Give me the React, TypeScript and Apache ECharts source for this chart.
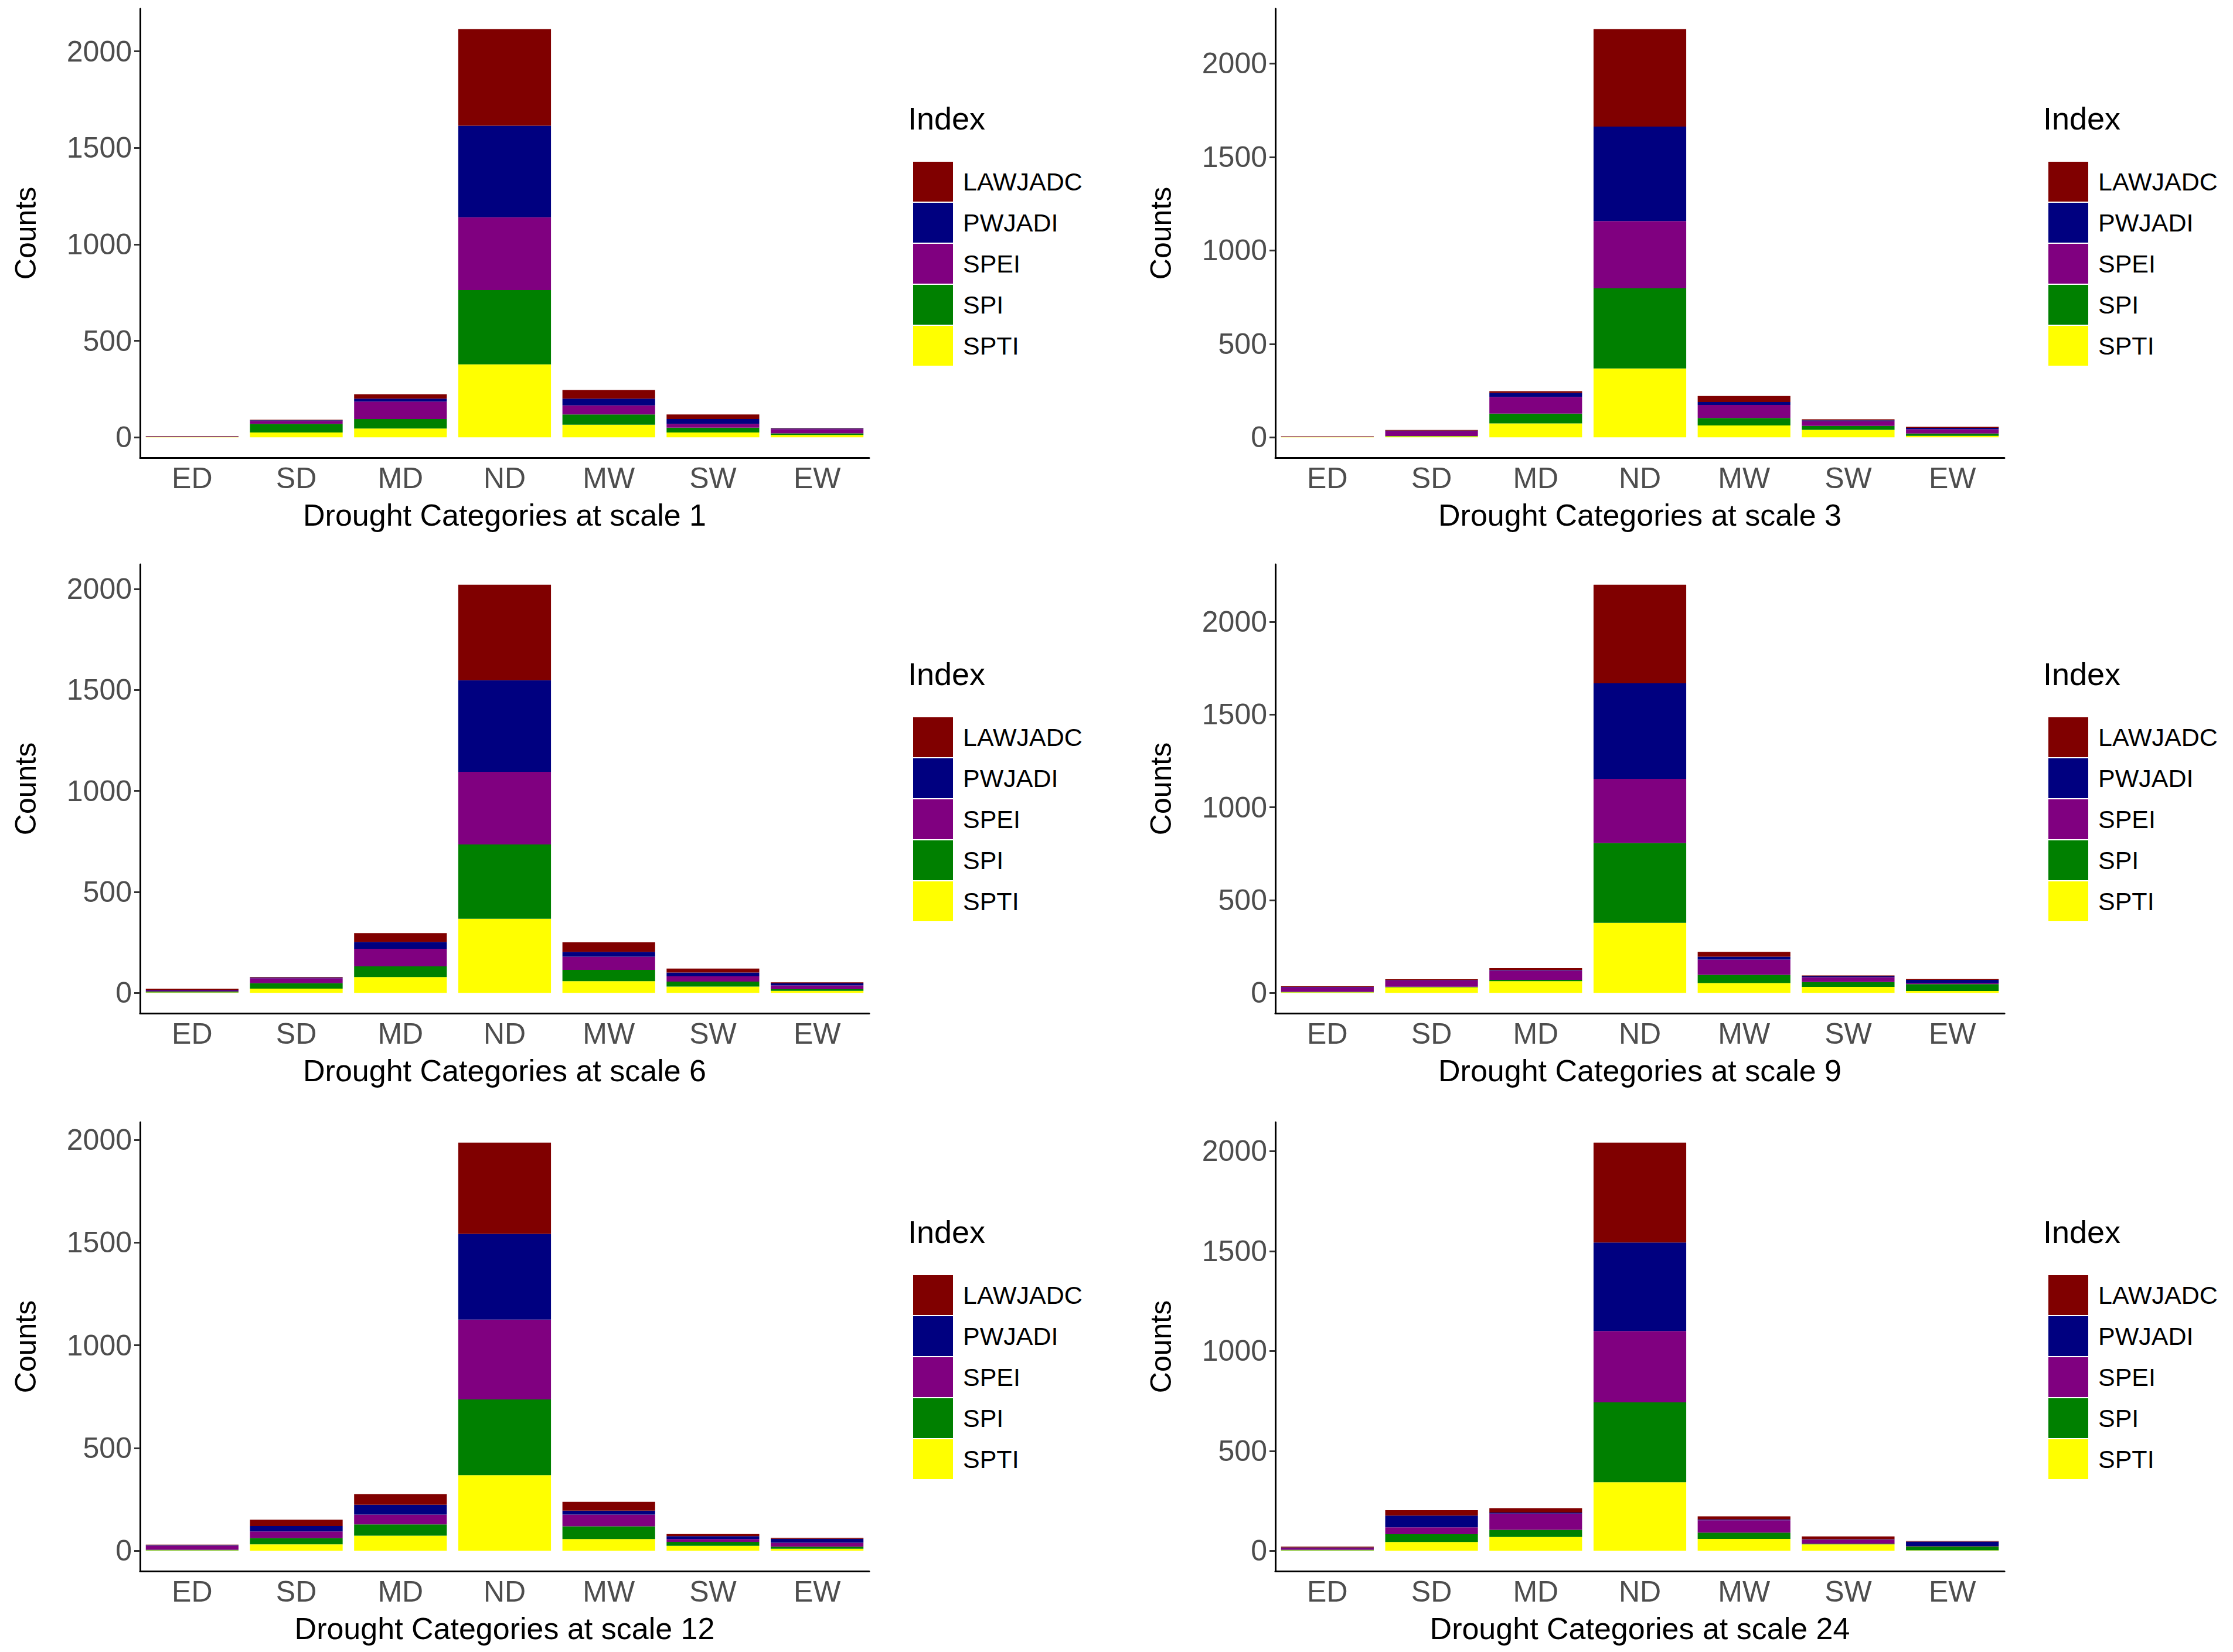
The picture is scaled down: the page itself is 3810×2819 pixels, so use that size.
import React, { useEffect, useRef } from "react";
import * as echarts from "echarts";

const categories = ["ED", "SD", "MD", "ND", "MW", "SW", "EW"];
const indices = ["SPTI", "SPI", "SPEI", "PWJADI", "LAWJADC"]; // bottom to top
const legendOrder = ["LAWJADC", "PWJADI", "SPEI", "SPI", "SPTI"];
const colors: Record<string, string> = {
  LAWJADC: "#800000",
  PWJADI: "#000080",
  SPEI: "#800080",
  SPI: "#008000",
  SPTI: "#FFFF00",
};
const scales = [1, 3, 6, 9, 12, 24];
const yTicks = [0, 500, 1000, 1500, 2000];

// per scale: values per category, for SPTI, SPI, SPEI, PWJADI, LAWJADC
const scale1 = {
  SPTI: [1, 25, 45, 378, 65, 25, 12],
  SPI: [1, 45, 50, 385, 53, 25, 8],
  SPEI: [2, 15, 90, 377, 47, 20, 22],
  PWJADI: [1, 3, 15, 475, 35, 25, 3],
  LAWJADC: [2, 3, 23, 500, 45, 23, 3],
};
const scale3 = {
  SPTI: [1, 5, 74, 368, 63, 40, 8],
  SPI: [0, 2, 53, 429, 40, 21, 12],
  SPEI: [1, 26, 89, 360, 70, 25, 23],
  PWJADI: [1, 3, 21, 506, 16, 5, 8],
  LAWJADC: [2, 3, 10, 521, 32, 5, 5],
};
const scale6 = {
  SPTI: [2, 21, 78, 367, 58, 31, 10],
  SPI: [5, 27, 53, 368, 56, 25, 8],
  SPEI: [5, 24, 87, 360, 65, 26, 19],
  PWJADI: [3, 3, 34, 453, 24, 19, 10],
  LAWJADC: [5, 3, 44, 473, 47, 19, 5],
};
const scale9 = {
  SPTI: [3, 30, 63, 377, 53, 32, 10],
  SPI: [2, 3, 7, 431, 44, 26, 37],
  SPEI: [25, 34, 50, 346, 82, 26, 5],
  PWJADI: [2, 2, 3, 515, 16, 5, 18],
  LAWJADC: [3, 4, 10, 531, 26, 5, 4],
};
const scale12 = {
  SPTI: [2, 31, 73, 368, 57, 24, 10],
  SPI: [3, 30, 55, 368, 62, 19, 10],
  SPEI: [20, 33, 48, 389, 57, 14, 19],
  PWJADI: [2, 26, 48, 417, 19, 14, 19],
  LAWJADC: [3, 31, 52, 444, 43, 10, 5],
};
const scale24 = {
  SPTI: [2, 44, 69, 343, 59, 32, 2],
  SPI: [3, 39, 36, 400, 32, 3, 20],
  SPEI: [8, 34, 81, 357, 61, 20, 2],
  PWJADI: [3, 59, 5, 443, 5, 2, 22],
  LAWJADC: [4, 27, 22, 500, 15, 15, 2],
};
const panels: Record<string, number[]>[] = [scale1, scale3, scale6, scale9, scale12, scale24];

const FONT = "Liberation Sans";

const App = () => {
  const ref = useRef<HTMLDivElement>(null);

  useEffect(() => {
    if (!ref.current) return;
    const chart = echarts.init(ref.current, null, { renderer: "svg" });

    const colLeft = [231, 2168];
    const plotW = 1244;
    const rowTop = [7, 955, 1907];
    const plotH = 766;

    const grids: any[] = [];
    const xAxes: any[] = [];
    const yAxes: any[] = [];
    const series: any[] = [];
    const legends: any[] = [];
    const graphics: any[] = [];

    panels.forEach((p, i) => {
      const col = i % 2;
      const row = Math.floor(i / 2);
      const left = colLeft[col];
      const top = rowTop[row];
      const maxTotal = Math.max(
        ...categories.map((_, c) => indices.reduce((s, k) => s + p[k][c], 0))
      );
      grids.push({ left, top, width: plotW, height: plotH });
      xAxes.push({
        type: "category",
        gridIndex: i,
        data: categories,
        name: "Drought Categories at scale " + scales[i],
        nameLocation: "middle",
        nameGap: 72,
        nameTextStyle: { fontFamily: FONT, fontSize: 52, color: "#000" },
        axisLine: { onZero: false, lineStyle: { color: "#000", width: 3 } },
        axisTick: { alignWithLabel: true, length: 10, lineStyle: { color: "#333", width: 3 } },
        axisLabel: { fontFamily: FONT, fontSize: 50, color: "#4d4d4d", margin: 10 },
      });
      yAxes.push({
        type: "value",
        gridIndex: i,
        min: -maxTotal * 0.05,
        max: maxTotal * 1.05,
        name: "Counts",
        nameLocation: "middle",
        nameGap: 170,
        nameTextStyle: { fontFamily: FONT, fontSize: 50, color: "#000" },
        splitLine: { show: false },
        axisLine: { show: true, lineStyle: { color: "#000", width: 3 } },
        axisTick: { show: true, length: 10, customValues: yTicks, lineStyle: { color: "#333", width: 3 } },
        axisLabel: {
          fontFamily: FONT,
          fontSize: 50,
          color: "#4d4d4d",
          margin: 14,
          customValues: yTicks,
          formatter: (v: number) => String(Math.round(v)),
        },
      });
      indices.forEach((k) => {
        series.push({
          name: k,
          type: "bar",
          stack: "s" + i,
          xAxisIndex: i,
          yAxisIndex: i,
          data: p[k],
          barCategoryGap: "11%",
          itemStyle: { color: colors[k] },
        });
      });
      legends.push({
        data: legendOrder,
        orient: "vertical",
        left: left + 1314,
        top: top + 256,
        icon: "rect",
        itemWidth: 68,
        itemHeight: 68,
        itemGap: 2,
        selectedMode: false,
        textStyle: { fontFamily: FONT, fontSize: 43, color: "#000", padding: [0, 0, 0, 12] },
      });
      graphics.push({
        type: "text",
        left: left + 1310,
        top: top + 160,
        style: { text: "Index", fontFamily: FONT, fontSize: 54, fill: "#000" },
      });
    });

    chart.setOption({
      animation: false,
      backgroundColor: "#fff",
      grid: grids,
      xAxis: xAxes,
      yAxis: yAxes,
      series,
      legend: legends,
      graphic: graphics,
    });

    return () => chart.dispose();
  }, []);

  return <div ref={ref} style={{ width: 3794, height: 2803 }} />;
};

export default App;
